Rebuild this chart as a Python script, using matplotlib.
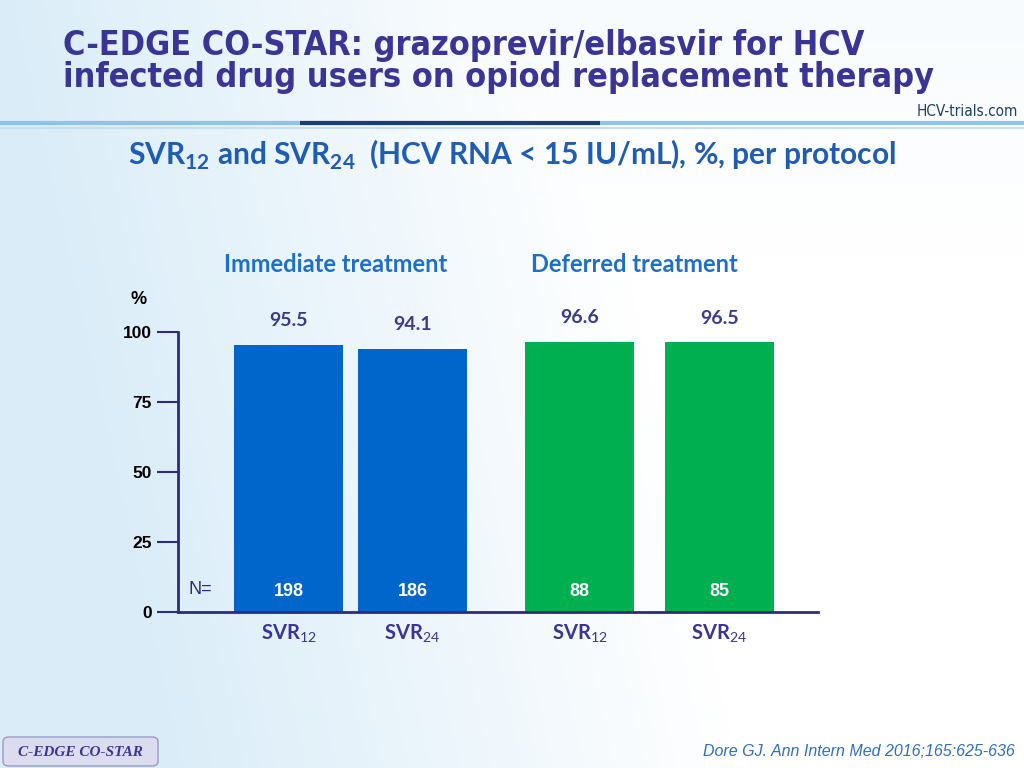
import numpy as np
import matplotlib.pyplot as plt
from matplotlib.patches import FancyBboxPatch

plt.rcParams['mathtext.fontset'] = 'custom'
plt.rcParams['mathtext.rm'] = 'Lato'
plt.rcParams['mathtext.bf'] = 'Lato:bold'

# data
measures = ['SVR$_{12}$', 'SVR$_{24}$', 'SVR$_{12}$', 'SVR$_{24}$']
svr = [95.5, 94.1, 96.6, 96.5]
n_pat = [198, 186, 88, 85]
groups = ['Immediate treatment', 'Deferred treatment']
yticks = [0, 25, 50, 75, 100]

pos = [110.5, 234.5, 401.5, 541.5]
bar_cols = ['#0066cc', '#0066cc', '#00b050', '#00b050']
navy = '#2e2a7e'
W, H = 1024, 768

def fx(x):
    return x / W

def fy(y):
    return 1 - y / H

fig = plt.figure(figsize=(10.24, 7.68), dpi=100)

# background gradient
bg = fig.add_axes([0, 0, 1, 1])
xx, yy = np.meshgrid(np.linspace(0, 1, 256), np.linspace(0, 1, 192))
t = np.clip(1 - 1.8 * xx + 0.3 * yy, 0, 1) * 0.9
t = np.maximum(t, np.clip(0.5 - 1.5 * yy, 0, 1) * 0.35)
img = np.ones((192, 256, 3))
base = np.array([0.84, 0.92, 0.97])
for k in range(3):
    img[:, :, k] = 1 - t * (1 - base[k])
bg.imshow(img, extent=[0, 1, 0, 1], aspect='auto', origin='upper')
bg.set_xlim(0, 1)
bg.set_ylim(0, 1)
bg.axis('off')

# title
fig.text(fx(63), fy(45), 'C-EDGE CO-STAR: grazoprevir/elbasvir for HCV', fontsize=24.5,
         fontweight='bold', fontstretch='condensed', color='#3a3594', va='center', family='DejaVu Sans')
fig.text(fx(63), fy(78), 'infected drug users on opiod replacement therapy', fontsize=24.5,
         fontweight='bold', fontstretch='condensed', color='#3a3594', va='center', family='DejaVu Sans')

# separator lines
bg.plot([0, 1], [fy(123), fy(123)], color='#8fc3e8', lw=3, solid_capstyle='butt')
bg.plot([fx(300), fx(600)], [fy(123), fy(123)], color='#1d3f6e', lw=3, solid_capstyle='butt')
bg.plot([0, 1], [fy(128), fy(128)], color='#c4e0f4', lw=1.5)
fig.text(fx(1018), fy(111), 'HCV-trials.com', fontsize=11, color='#1d3f6e', ha='right', va='center',
         fontstretch='condensed')

# subtitle
fig.text(fx(512), fy(155), r'SVR$_{\mathbf{12}}$ and SVR$_{\mathbf{24}}$  (HCV RNA < 15 IU/mL), %, per protocol',
         fontsize=21.5, fontweight='bold', color='#1f5cb4', ha='center', va='center', family='Lato')

# chart
ax = fig.add_axes([fx(178), 156 / H, 640 / W, 280 / H])
ax.patch.set_alpha(0)
ax.bar(pos, svr, width=109, color=bar_cols)
ax.set_xlim(0, 640)
ax.set_ylim(0, 100)
for s in ['top', 'right']:
    ax.spines[s].set_visible(False)
for s in ['left', 'bottom']:
    ax.spines[s].set_color(navy)
    ax.spines[s].set_linewidth(2)
ax.set_yticks(yticks)
ax.set_yticklabels([str(v) for v in yticks], fontsize=12.5, fontweight='bold', family='Liberation Sans', color='black')
ax.tick_params(axis='y', length=15, width=1.5, color=navy, pad=4)
ax.set_xticks(pos)
ax.set_xticklabels(measures, fontsize=14.5, fontweight='bold', color='#3a3594', family='Lato')
ax.tick_params(axis='x', length=0, pad=8)

for p, v, n in zip(pos, svr, n_pat):
    ax.text(p, v + 8.5, f'{v}', ha='center', va='center', fontsize=14, fontweight='bold',
            color='#3b3a8c', family='Lato', clip_on=False)
    ax.text(p, 7.5, str(n), ha='center', va='center', fontsize=13, fontweight='bold',
            color='white', family='Liberation Sans')
ax.text(10, 8, 'N=', ha='left', va='center', fontsize=13, color=navy, family='Liberation Sans')
fig.text(fx(139), fy(300), '%', fontsize=13, fontweight='bold', color='black', ha='center', va='center',
         family='Liberation Sans')

fig.text(fx(336), fy(265), groups[0], fontsize=17, fontweight='bold', color='#1f6fc8', ha='center',
         va='center', family='Lato')
fig.text(fx(634), fy(265), groups[1], fontsize=17, fontweight='bold', color='#1f6fc8', ha='center',
         va='center', family='Lato')

# footer
box = FancyBboxPatch((fx(3), fy(766)), fx(155), fy(737) - fy(766), boxstyle='round,pad=0,rounding_size=0.006',
                     transform=fig.transFigure, facecolor='#dcdcf0', edgecolor='#9a9ac0', lw=1)
fig.patches.append(box)
fig.text(fx(80), fy(752), 'C-EDGE CO-STAR', fontsize=11, fontweight='bold', style='italic', family='Liberation Serif',
         color='#3a3594', ha='center', va='center')
fig.text(fx(1015), fy(752), 'Dore GJ. Ann Intern Med 2016;165:625-636', fontsize=11.5, style='italic',
         family='Liberation Sans', color='#2f6fc0', ha='right', va='center')

fig.savefig('out.png', dpi=100)
